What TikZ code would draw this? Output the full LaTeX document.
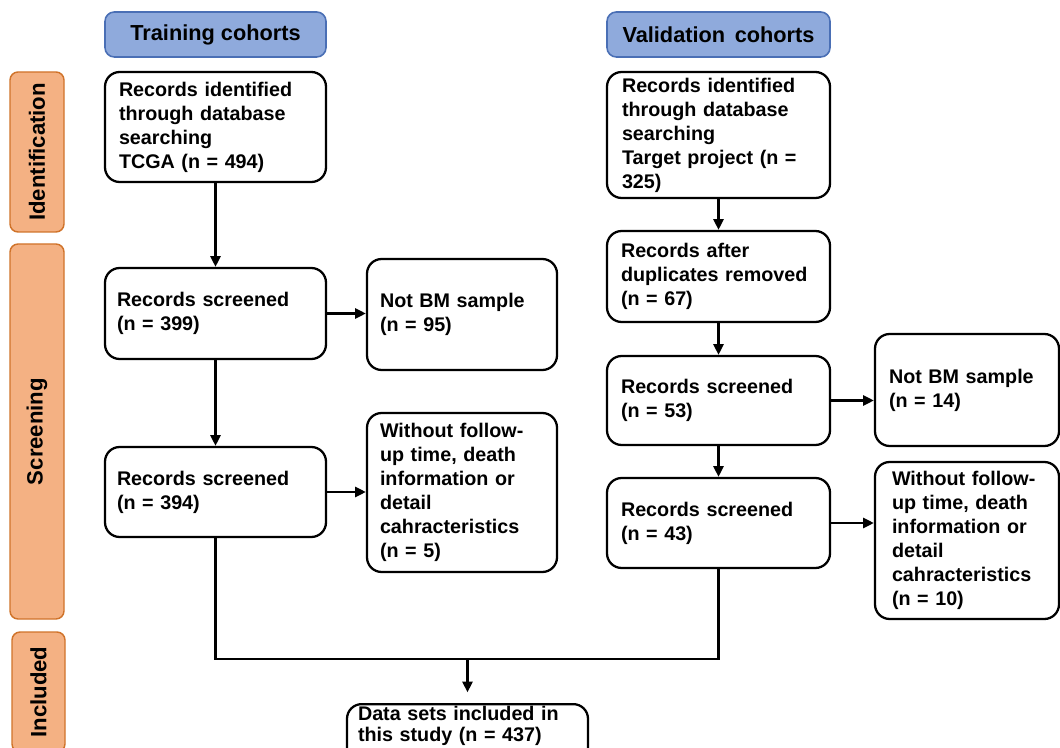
\documentclass[tikz,border=0pt]{standalone}
\usepackage{fontspec}
\setmainfont{Liberation Sans}
\usetikzlibrary{arrows.meta}
\definecolor{hdrfill}{HTML}{8FAADC}
\definecolor{hdrline}{HTML}{4A6FB5}
\definecolor{sidefill}{HTML}{F4B183}
\definecolor{sideline}{HTML}{D0732A}
\newcommand\bodyfnt{\fontsize{14.8}{18}\selectfont\bfseries}
\newcommand\hdrfnt{\fontsize{16.3}{19}\selectfont\bfseries}
\newcommand\sidefnt{\fontsize{16.6}{19}\selectfont\bfseries}
\tikzset{
 box/.style={draw, line width=1.7pt, rounded corners=11pt, fill=white, inner sep=0pt, align=left, font=\bodyfnt},
 hdr/.style={draw=hdrline, fill=hdrfill, line width=1.2pt, rounded corners=7pt, minimum height=33.75pt, font=\hdrfnt, inner sep=0pt},
 side/.style={draw=sideline, fill=sidefill, line width=1.1pt, rounded corners=6pt, rotate=90, minimum height=40.5pt, font=\sidefnt, inner sep=0pt},
 arr/.style={line width=1.7pt, -{Triangle[length=8pt,width=7.5pt]}},
 ln/.style={line width=1.7pt}
}
\begin{document}
\begin{tikzpicture}[x=0.75pt,y=-0.75pt]
\useasboundingbox (0,0) rectangle (1060,748);
\clip (0,0) rectangle (1060,748);
% headers
\node[hdr, minimum width=165.75pt] (th) at (215.5,34.5) {Training cohorts};
\node[hdr, minimum width=167.25pt] (vh) at (718.5,34.5) {Validation\ \,cohorts};
% side labels
\node[side, minimum width=120pt] (sid) at (37,152) {Identification};
\node[side, minimum width=281.25pt] (sscr) at (37,431.5) {Screening};
\node[side, minimum width=90pt, minimum height=39.75pt] (sinc) at (38.5,692) {Included};
% training column
\node[box, minimum width=165.75pt, minimum height=82.5pt, text width=144.75pt] (A1) at (215.5,127)
 {Records identified\\through database\\searching\\TCGA (n = 494)};
\node[box, minimum width=165.75pt, minimum height=68.25pt, text width=147.75pt] (A2) at (215.5,313.5)
 {Records screened\\(n = 399)};
\node[box, minimum width=165.75pt, minimum height=67.5pt, text width=147.75pt] (A3) at (215.5,492)
 {Records screened\\(n = 394)};
\node[box, minimum width=142.5pt, minimum height=83.25pt, text width=123pt] (L1) at (462,314.5)
 {Not BM sample\\(n = 95)};
\node[box, minimum width=142.5pt, minimum height=119.25pt, text width=123pt] (L2) at (462,492.5)
 {Without follow-\\up time, death\\information or\\detail\\cahracteristics\\(n = 5)};
% validation column
\node[box, minimum width=167.25pt, minimum height=94.5pt, text width=144.75pt] (B1) at (718.5,135)
 {Records identified\\through database\\searching\\Target project (n =\\325)};
\node[box, minimum width=167.25pt, minimum height=68.25pt, text width=146.25pt] (B2) at (718.5,276.5)
 {Records after\\duplicates removed\\(n = 67)};
\node[box, minimum width=167.25pt, minimum height=66.75pt, text width=146.25pt] (B3) at (718.5,400.5)
 {Records screened\\(n = 53)};
\node[box, minimum width=167.25pt, minimum height=67.5pt, text width=146.25pt] (B4) at (718.5,523)
 {Records screened\\(n = 43)};
\node[box, minimum width=138pt, minimum height=84pt, text width=117pt] (R1) at (967,390)
 {Not BM sample\\(n = 14)};
\node[box, minimum width=138pt, minimum height=117.75pt, text width=112.5pt] (R2) at (967,540.5)
 {Without follow-\\up time, death\\information or\\detail\\cahracteristics\\(n = 10)};
% final box
\node[box, anchor=north, minimum width=180.75pt, text width=164.25pt, text height=12pt, text depth=40pt,
 font=\fontsize{14.8}{16.2}\selectfont\bfseries] (D) at (467.5,703)
 {Data sets included in\\this study (n = 437)};
% connectors
\draw[arr] (A1.south) -- (A2.north);
\draw[arr] (A2.south) -- (A3.north);
\draw[arr] (A2.east) -- (A2.east -| L1.west);
\draw[arr] (A3.east) -- (A3.east -| L2.west);
\draw[arr] (B1.south) -- (B2.north);
\draw[arr] (B2.south) -- (B3.north);
\draw[arr] (B3.south) -- (B4.north);
\draw[arr] (B3.east) -- (B3.east -| R1.west);
\draw[arr] (B4.east) -- (B4.east -| R2.west);
\coordinate (m) at (467.5,659);
\draw[ln] (A3.south) |- (m) -| (B4.south);
\draw[arr, shorten >=8pt] (m) -- (D.north);
\end{tikzpicture}
\end{document}
